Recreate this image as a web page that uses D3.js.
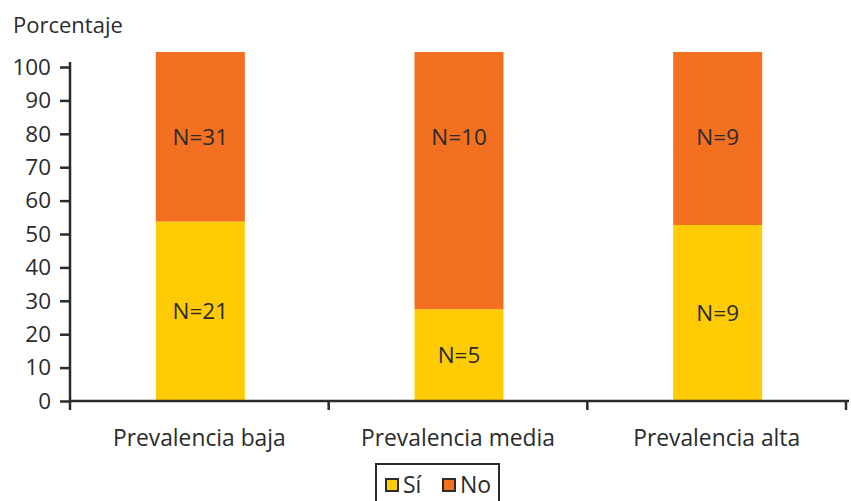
<!DOCTYPE html>
<html><head><meta charset="utf-8">
<script src="https://cdn.jsdelivr.net/npm/d3@7"></script>
<style>
body{margin:0;background:#fff;}
text{font-family:"Open Sans",sans-serif;fill:#2b2b2b;}
</style></head>
<body><svg id="c" width="851" height="501"></svg>
<script>
const categories = ["Prevalencia baja","Prevalencia media","Prevalencia alta"];
const siValues = [53.7, 27.5, 52.7];
const noValues = [50.8, 77.0, 51.8];
const siLabels = ["N=21","N=5","N=9"];
const noLabels = ["N=31","N=10","N=9"];
const yTicks = [0,10,20,30,40,50,60,70,80,90,100];
const seriesNames = ["Sí","No"];
const colors = ["#FFCB05","#F37021"];

const svg = d3.select("#c");
const y = d3.scaleLinear().domain([0,101.5]).range([401,62]);
const x = d3.scaleBand().domain(categories).range([70,846]).paddingInner(0).paddingOuter(0);
const barW = 89;

const data = categories.map((c,i)=>({c, si:siValues[i], no:noValues[i], sl:siLabels[i], nl:noLabels[i]}));
const g = svg.append("g");
data.forEach(d=>{
  const cx = x(d.c)+x.bandwidth()/2 + 1;
  g.append("rect").attr("x",cx-barW/2).attr("width",barW)
    .attr("y",y(d.si)).attr("height",y(0)-y(d.si)).attr("fill",colors[0]);
  g.append("rect").attr("x",cx-barW/2).attr("width",barW)
    .attr("y",y(d.si+d.no)).attr("height",y(d.si)-y(d.si+d.no)).attr("fill",colors[1]);
  g.append("text").attr("x",cx).attr("y",y(d.si/2)).attr("dy","0.36em")
    .attr("text-anchor","middle").attr("font-size",22.5).text(d.sl);
  g.append("text").attr("x",cx).attr("y",y(79)).attr("dy","0.36em")
    .attr("text-anchor","middle").attr("font-size",22.5).text(d.nl);
});

// y axis
const ya = svg.append("g").attr("transform","translate(70,0)")
  .call(d3.axisLeft(y).tickValues(yTicks).tickSize(10).tickPadding(9));
ya.select(".domain").remove();
ya.selectAll("line").attr("stroke","#2b2b2b").attr("stroke-width",2.5);
ya.selectAll("text").attr("font-size",22.5).attr("fill","#2b2b2b").style("font-family","Open Sans");
svg.append("line").attr("x1",70).attr("x2",70).attr("y1",y(101.5)).attr("y2",y(0)+1.25)
  .attr("stroke","#2b2b2b").attr("stroke-width",2.5);

// x axis
svg.append("line").attr("x1",69).attr("x2",849).attr("y1",y(0)).attr("y2",y(0))
  .attr("stroke","#2b2b2b").attr("stroke-width",2.5);
const bounds = categories.map(c=>x(c)).concat([x.range()[1]]);
bounds.forEach(b=>{
  svg.append("line").attr("x1",b).attr("x2",b).attr("y1",y(0)).attr("y2",y(0)+9)
    .attr("stroke","#2b2b2b").attr("stroke-width",2.5);
});
categories.forEach(c=>{
  svg.append("text").attr("x",x(c)+x.bandwidth()/2).attr("y",446)
    .attr("text-anchor","middle").attr("font-size",22.8).text(c);
});

// y title
svg.append("text").attr("x",13).attr("y",33).attr("font-size",22).text("Porcentaje");

// legend
const lg = svg.append("g");
lg.append("rect").attr("x",376).attr("y",464).attr("width",123).attr("height",40)
  .attr("fill","#fff").attr("stroke","#2b2b2b").attr("stroke-width",2);
const lx = [386, 443];
seriesNames.forEach((s,i)=>{
  lg.append("rect").attr("x",lx[i]).attr("y",479).attr("width",12).attr("height",12)
    .attr("fill",colors[i]).attr("stroke","#2b2b2b").attr("stroke-width",2);
  lg.append("text").attr("x",lx[i]+17).attr("y",493).attr("font-size",23).text(s);
});
</script></body></html>
